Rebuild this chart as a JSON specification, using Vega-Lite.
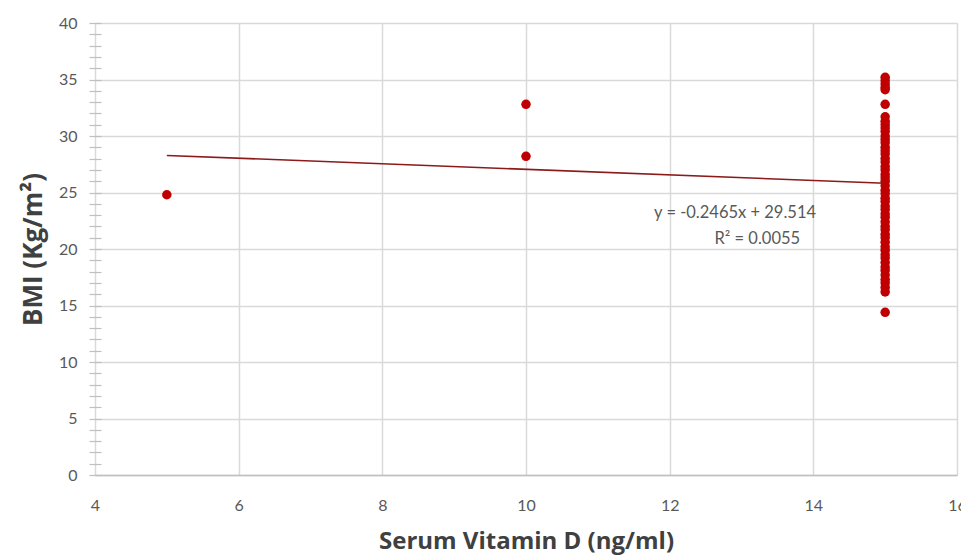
{
  "$schema": "https://vega.github.io/schema/vega-lite/v6.json",
  "width": 862,
  "height": 452,
  "autosize": {"type": "none"},
  "padding": {"left": 95, "top": 23, "right": 4, "bottom": 80},
  "background": "white",
  "config": {
    "view": {"stroke": null},
    "font": "Lato",
    "axis": {"labelFont": "Lato", "titleFont": "Open Sans"}
  },
  "datasets": {
    "pts": [
      {"vitd": 5, "bmi": 24.8},
      {"vitd": 10, "bmi": 32.8},
      {"vitd": 10, "bmi": 28.2},
      {"vitd": 15, "bmi": 35.2}, {"vitd": 15, "bmi": 34.9}, {"vitd": 15, "bmi": 34.6}, {"vitd": 15, "bmi": 34.3},
      {"vitd": 15, "bmi": 34.1}, {"vitd": 15, "bmi": 32.8}, {"vitd": 15, "bmi": 31.7}, {"vitd": 15, "bmi": 31.3},
      {"vitd": 15, "bmi": 31.0}, {"vitd": 15, "bmi": 30.7}, {"vitd": 15, "bmi": 30.4}, {"vitd": 15, "bmi": 30.0},
      {"vitd": 15, "bmi": 29.7}, {"vitd": 15, "bmi": 29.4}, {"vitd": 15, "bmi": 29.0}, {"vitd": 15, "bmi": 28.7},
      {"vitd": 15, "bmi": 28.4}, {"vitd": 15, "bmi": 28.0}, {"vitd": 15, "bmi": 27.7}, {"vitd": 15, "bmi": 27.3},
      {"vitd": 15, "bmi": 27.0}, {"vitd": 15, "bmi": 26.6}, {"vitd": 15, "bmi": 26.3}, {"vitd": 15, "bmi": 26.0},
      {"vitd": 15, "bmi": 25.6}, {"vitd": 15, "bmi": 25.2}, {"vitd": 15, "bmi": 24.9}, {"vitd": 15, "bmi": 24.5},
      {"vitd": 15, "bmi": 24.2}, {"vitd": 15, "bmi": 23.8}, {"vitd": 15, "bmi": 23.5}, {"vitd": 15, "bmi": 23.1},
      {"vitd": 15, "bmi": 22.8}, {"vitd": 15, "bmi": 22.4}, {"vitd": 15, "bmi": 22.0}, {"vitd": 15, "bmi": 21.7},
      {"vitd": 15, "bmi": 21.3}, {"vitd": 15, "bmi": 21.0}, {"vitd": 15, "bmi": 20.6}, {"vitd": 15, "bmi": 20.2},
      {"vitd": 15, "bmi": 19.9}, {"vitd": 15, "bmi": 19.5}, {"vitd": 15, "bmi": 19.2}, {"vitd": 15, "bmi": 18.8},
      {"vitd": 15, "bmi": 18.4}, {"vitd": 15, "bmi": 18.1}, {"vitd": 15, "bmi": 17.7}, {"vitd": 15, "bmi": 17.3},
      {"vitd": 15, "bmi": 17.0}, {"vitd": 15, "bmi": 16.6}, {"vitd": 15, "bmi": 16.2}, {"vitd": 15, "bmi": 14.4}
    ],
    "trend": [
      {"vitd": 5, "bmi": 28.28},
      {"vitd": 15, "bmi": 25.82}
    ],
    "labels": [
      {"vitd": 12.91, "bmi": 23.2, "text": "y = -0.2465x + 29.514"},
      {"vitd": 13.22, "bmi": 20.9, "text": "R² = 0.0055"}
    ]
  },
  "layer": [
    {
      "data": {"name": "pts"},
      "mark": {"type": "circle", "size": 90, "color": "#c00000", "opacity": 1},
      "encoding": {
        "x": {
          "field": "vitd", "type": "quantitative",
          "scale": {"domain": [4, 16], "nice": false, "zero": false},
          "axis": {
            "values": [4, 6, 8, 10, 12, 14, 16],
            "tickCount": 7,
            "format": "d",
            "labelFlush": false,
            "labelOverlap": false,
            "title": "Serum Vitamin D (ng/ml)",
            "titleFontSize": 24, "titleFontWeight": "bold", "titleColor": "#404040",
            "titlePadding": 16,
            "labelFontSize": 16, "labelColor": "#595959", "labelPadding": 22,
            "ticks": false,
            "domainColor": "#bfbfbf", "domainWidth": 1.5,
            "grid": true, "gridColor": "#d9d9d9", "gridWidth": 1.5
          }
        },
        "y": {
          "field": "bmi", "type": "quantitative",
          "scale": {"domain": [0, 40], "nice": false},
          "axis": {
            "values": [0,1,2,3,4,5,6,7,8,9,10,11,12,13,14,15,16,17,18,19,20,21,22,23,24,25,26,27,28,29,30,31,32,33,34,35,36,37,38,39,40],
            "tickCount": 41,
            "format": "d",
            "labelExpr": "datum.value % 5 === 0 ? datum.label : ''",
            "labelFlush": false,
            "labelOverlap": false,
            "title": "BMI (Kg/m²)",
            "titleFontSize": 26, "titleFontWeight": "bold", "titleColor": "#404040",
            "titlePadding": 12,
            "labelFontSize": 16, "labelColor": "#595959", "labelPadding": 12,
            "offset": -6,
            "tickSize": 12, "tickColor": "#bfbfbf", "tickWidth": 1.2,
            "domain": false,
            "grid": true, "gridColor": "#d9d9d9", "gridWidth": 1.5,
            "gridOpacity": {"condition": {"test": "datum.value % 5 === 0", "value": 1}, "value": 0}
          }
        }
      }
    },
    {
      "data": {"name": "trend"},
      "mark": {"type": "line", "color": "#8b1a1a", "strokeWidth": 1.6},
      "encoding": {
        "x": {"field": "vitd", "type": "quantitative"},
        "y": {"field": "bmi", "type": "quantitative"}
      }
    },
    {
      "data": {"name": "labels"},
      "mark": {"type": "text", "fontSize": 16.5, "color": "#595959", "font": "Lato", "align": "center", "baseline": "middle"},
      "encoding": {
        "x": {"field": "vitd", "type": "quantitative"},
        "y": {"field": "bmi", "type": "quantitative"},
        "text": {"field": "text"}
      }
    }
  ]
}
